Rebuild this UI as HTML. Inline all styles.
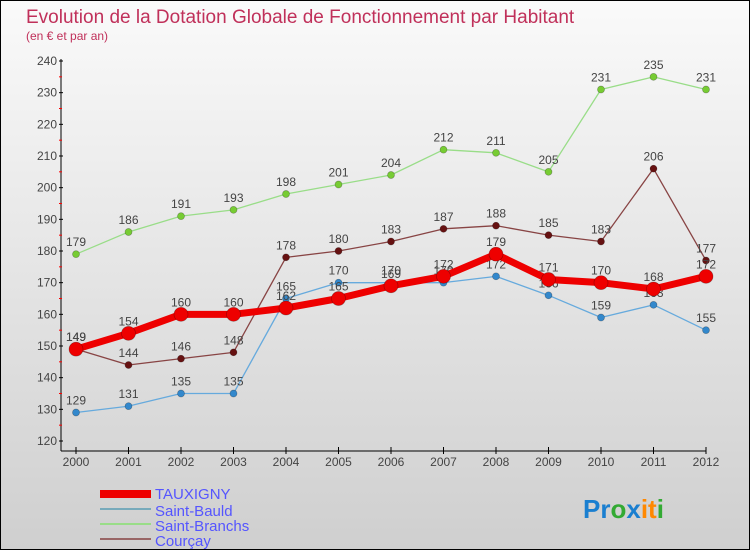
<!DOCTYPE html>
<html><head><meta charset="utf-8"><style>
body{margin:0}
#c{width:748px;height:548px;border:1px solid #000;background:linear-gradient(#fafafa,#cfcfcf);position:relative;font-family:"Liberation Sans",sans-serif}
</style></head><body>
<div id="c">
<svg id="s" width="748" height="548" style="position:absolute;left:0;top:0" font-family="Liberation Sans, sans-serif">
<text x="25" y="22" font-size="19" fill="#c0305a">Evolution de la Dotation Globale de Fonctionnement par Habitant</text>
<text x="25" y="39" font-size="12" fill="#c0305a">(en € et par an)</text>
<g id="g"></g>
<g>
<rect x="99" y="489" width="51" height="8" fill="#e00"/>
<text x="154" y="498" font-size="15" fill="#55f">TAUXIGNY</text>
<rect x="99" y="507" width="51" height="2" fill="#7ab"/>
<text x="154" y="515" font-size="15" fill="#55f">Saint-Bauld</text>
<rect x="99" y="522" width="51" height="2" fill="#9d8"/>
<text x="154" y="530" font-size="15" fill="#55f">Saint-Branchs</text>
<rect x="99" y="537" width="51" height="2" fill="#966"/>
<text x="154" y="545" font-size="15" fill="#55f">Courçay</text>
</g>
<text x="582" y="517" font-size="26" font-weight="bold"><tspan fill="#1a7fd0">Pr</tspan><tspan fill="#3a3">o</tspan><tspan fill="#1a7fd0">x</tspan><tspan fill="#f80">it</tspan><tspan fill="#3a3">i</tspan></text>
</svg></div>
<script>
const years=[2000,2001,2002,2003,2004,2005,2006,2007,2008,2009,2010,2011,2012];
const yTicks=[120,130,140,150,160,170,180,190,200,210,220,230,240];
const tauxigny=[149,154,160,160,162,165,169,172,179,171,170,168,172];
const saintBauld=[129,131,135,135,165,170,170,170,172,166,159,163,155];
const saintBranchs=[179,186,191,193,198,201,204,212,211,205,231,235,231];
const courcay=[149,144,146,148,178,180,183,187,188,185,183,206,177];
const NS="http://www.w3.org/2000/svg",g=document.getElementById('g');
const X=i=>75+i*52.5, Y=v=>440-(v-120)*380/120;
function el(t,a,p){const e=document.createElementNS(NS,t);for(const k in a)e.setAttribute(k,a[k]);(p||g).appendChild(e);return e;}
let e;
e=el('line',{x1:60,y1:58,x2:60,y2:450,stroke:'#000'});


e=el('line',{x1:60,y1:450,x2:705,y2:450,stroke:'#000'});


yTicks.forEach(v=>{el('line',{x1:58,x2:62,y1:Y(v),y2:Y(v),stroke:'#000'});
 if(v<240)el('line',{x1:58,x2:61,y1:Y(v+5),y2:Y(v+5),stroke:'#f00'});
 e=el('text',{x:56,y:Y(v)+4,'text-anchor':'end','font-size':12,fill:'#444'});e.textContent=v;
 
 });
years.forEach((y,i)=>{el('line',{x1:X(i),x2:X(i),y1:446,y2:453,stroke:'#000'});
 e=el('text',{x:X(i),y:465,'text-anchor':'middle','font-size':12,fill:'#444'});e.textContent=y;
 
 });
function series(d,col,fill,w,r,name){
 e=el('polyline',{points:d.map((v,i)=>X(i)+','+Y(v)).join(' '),fill:'none',stroke:col,'stroke-width':w,'stroke-linejoin':'round'});
 
 
 d.forEach((v,i)=>{e=el('circle',{cx:X(i),cy:Y(v),r:r,fill:fill,stroke:'rgba(0,0,0,0.3)','stroke-width':0.7});
  
  
  e=el('text',{x:X(i),y:Y(v)-8,'text-anchor':'middle','font-size':12,fill:'#444'});e.textContent=v;
  
  });
}
series(saintBranchs,'#9d8','#7c3',1.3,3.5,'saint-branchs');
series(courcay,'#844','#611',1.3,3.5,'courcay');
series(saintBauld,'#6ad','#38c',1.3,3.5,'saint-bauld');
series(tauxigny,'#e00','#e00',7,7,'tauxigny');
</script>
</body></html>
